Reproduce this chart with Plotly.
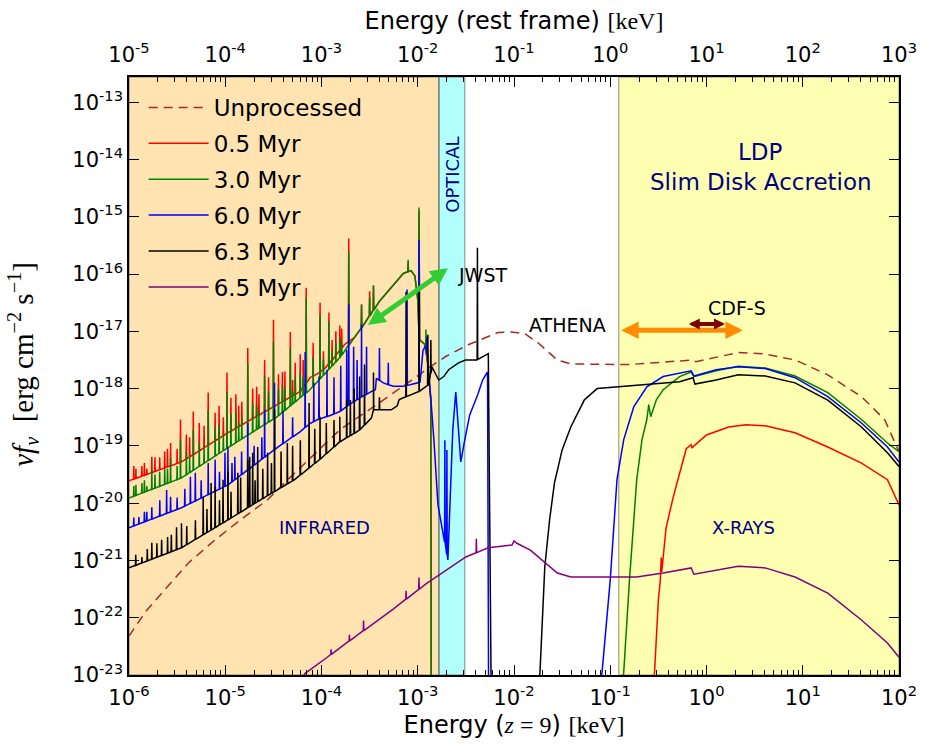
import numpy as np
import plotly.graph_objects as go

# ---------------- data: log10(E_obs / keV) and log10(nu f_nu / erg cm^-2 s^-1) ----------------
unproc_logE = [-6.00, -5.83, -5.66, -5.38, -5.105, -4.84, -4.56, -4.35, -3.81, -3.40, -2.81, -2.71, -2.47,
               -2.165, -2.03, -1.89, -1.75, -1.55, -1.41, -1.136, -0.80, -0.14, -0.11, 0.33, 0.58, 0.92,
               1.26, 1.61, 1.85, 2.0]
unproc_logF = [-22.32, -21.90, -21.57, -21.04, -20.64, -20.29, -19.94, -19.59, -18.72, -18.25, -17.55, -17.44,
               -17.23, -17.02, -17.01, -17.04, -17.20, -17.50, -17.57, -17.58, -17.58, -17.50, -17.53, -17.37,
               -17.39, -17.50, -17.76, -18.14, -18.54, -19.10]

# 0.5 Myr
red_ir_logE = [-6.0, -5.455, -4.97, -4.46, -4.22, -4.12, -4.03, -3.96, -3.86, -3.76, -3.66, -3.58, -3.40,
               -3.15, -3.07, -3.03, -3.00, -2.98, -2.925, -2.895, -2.864, -2.860]
red_ir_logF = [-19.61, -19.28, -18.77, -18.28, -18.05, -17.81, -17.73, -17.64, -17.44, -17.23, -17.11, -16.94,
               -16.48, -15.99, -15.94, -16.03, -16.45, -17.15, -17.23, -17.58, -18.20, -23.5]
red_x_logE = [-0.56, -0.54, -0.50, -0.48, -0.47, -0.465, -0.42, -0.345, -0.27, -0.21, -0.16, -0.15, 0.0, 0.23,
              0.41, 0.61, 0.92, 1.26, 1.61, 1.88, 2.0]
red_x_logF = [-23.25, -22.95, -21.69, -21.35, -20.95, -21.20, -20.43, -19.89, -19.42, -19.05, -18.98, -19.03,
              -18.81, -18.67, -18.63, -18.65, -18.77, -19.02, -19.30, -19.59, -20.03]
red_line_logE = [-5.928, -5.866, -5.815, -5.763, -5.681, -5.629, -5.568, -5.465, -5.404, -5.332, -5.270, -5.177,
                 -5.105, -5.064, -4.982, -4.941, -4.890, -4.828, -4.766, -4.715, -4.674, -4.591, -4.550, -4.499,
                 -4.447, -4.406, -4.324, -4.273, -4.221, -4.159, -4.087, -4.015, -3.923, -3.851, -3.810, -3.717,
                 -3.584, -3.500, -3.460, -3.100, -2.987,
                 -5.95, -5.84, -5.73, -5.60, -5.50, -5.37, -5.22, -5.02, -4.86, -4.65, -4.38, -4.30, -4.19,
                 -3.98, -3.89, -3.79]
red_line_logF = [-19.40, -19.35, -19.40, -19.19, -19.20, -19.10, -18.95, -18.54, -18.80, -18.40, -18.60, -18.07,
                 -18.42, -18.30, -17.72, -18.16, -18.10, -18.23, -17.29, -18.00, -17.97, -17.50, -17.80, -16.80,
                 -17.75, -17.71, -17.01, -17.55, -17.40, -16.24, -17.20, -16.50, -16.67, -17.00, -16.90, -15.38,
                 -16.53, -16.30, -16.20, -15.80, -14.90,
                 -19.35, -19.30, -19.20, -19.05, -19.05, -18.85, -18.65, -18.50, -18.30, -18.10, -17.70, -17.85,
                 -17.50, -17.35, -17.15, -16.95]

# 3.0 Myr
green_ir_logE = [-6.0, -5.455, -4.97, -4.46, -4.12, -3.81, -3.60, -3.40, -3.15, -3.07, -3.03, -3.00, -2.98,
                 -2.925, -2.895, -2.864, -2.860]
green_ir_logF = [-19.91, -19.56, -19.03, -18.49, -18.02, -17.46, -16.97, -16.48, -15.99, -15.94, -16.03, -16.45,
                 -17.15, -17.23, -17.58, -18.20, -23.5]
green_x_logE = [-0.88, -0.86, -0.80, -0.725, -0.67, -0.62, -0.60, -0.58, -0.52, -0.45, -0.28, -0.16, -0.13, 0.10,
                0.33, 0.61, 0.92, 1.26, 1.61, 1.88, 2.0]
green_x_logF = [-23.25, -22.95, -21.34, -19.59, -18.89, -18.54, -18.28, -18.49, -18.19, -18.02, -17.79, -17.71,
                -17.79, -17.69, -17.61, -17.64, -17.78, -18.07, -18.54, -18.95, -19.10]
green_line_logE = [-5.928, -5.866, -5.815, -5.763, -5.681, -5.629, -5.568, -5.465, -5.404, -5.332, -5.270, -5.177,
                   -5.105, -5.064, -4.982, -4.941, -4.890, -4.828, -4.766, -4.715, -4.674, -4.591, -4.550, -4.499,
                   -4.447, -4.406, -4.324, -4.273, -4.221, -4.159, -4.087, -4.015, -3.923, -3.851, -3.810, -3.717,
                   -3.584, -3.500, -3.460, -3.100, -2.987, -2.915,
                   -5.95, -5.84, -5.73, -5.60, -5.50, -5.37, -5.22, -5.02, -4.86, -4.65, -4.38, -4.30, -4.19,
                   -3.98, -3.89, -3.79]
green_line_logF = [-19.68, -19.65, -19.70, -19.42, -19.45, -19.40, -19.21, -18.89, -19.10, -18.72, -18.95, -18.37,
                   -18.68, -18.62, -18.05, -18.45, -18.40, -18.51, -17.57, -18.25, -18.28, -17.78, -18.05, -17.18,
                   -18.00, -17.93, -17.29, -17.80, -17.70, -16.41, -17.45, -16.71, -16.83, -17.20, -17.10, -15.62,
                   -16.53, -16.40, -16.20, -15.75, -14.84, -16.97,
                   -19.70, -19.60, -19.50, -19.40, -19.35, -19.20, -19.00, -18.80, -18.60, -18.40, -18.00, -18.05,
                   -17.80, -17.50, -17.35, -17.20]

# 6.0 Myr
blue_ir_logE = [-6.0, -5.455, -4.97, -4.46, -4.22, -4.12, -4.04, -3.91, -3.81, -3.71, -3.60, -3.48, -3.44,
                -3.430, -3.358, -3.255, -3.152, -3.049, -2.976, -2.945, -2.914, -2.894, -2.863, -2.832, -2.790,
                -2.739, -2.687, -2.667, -2.636, -2.605, -2.584, -2.553, -2.512, -2.460, -2.378, -2.326, -2.275,
                -2.264]
blue_ir_logF = [-20.43, -20.08, -19.68, -19.03, -18.75, -18.61, -18.54, -18.47, -18.40, -18.28, -18.16, -18.05,
                -18.02, -17.82, -17.90, -17.96, -17.96, -17.92, -17.89, -17.33, -17.24, -17.59, -18.20, -18.90,
                -20.03, -20.47, -20.99, -19.95, -18.72, -18.06, -18.55, -19.28, -18.90, -18.46, -18.11, -17.85,
                -17.71, -23.3]
blue_x_logE = [-1.11, -1.085, -1.0, -0.93, -0.86, -0.756, -0.62, -0.45, -0.16, -0.13, 0.10, 0.33, 0.61, 0.92,
               1.26, 1.61, 1.88, 2.0]
blue_x_logF = [-23.25, -22.95, -21.34, -19.59, -18.89, -18.32, -17.97, -17.79, -17.69, -17.78, -17.67, -17.62,
               -17.65, -17.81, -18.14, -18.60, -19.02, -19.28]
blue_line_logE = [-5.897, -5.815, -5.763, -5.609, -5.568, -5.362, -5.311, -5.177, -5.105, -5.003, -4.972, -4.900,
                  -4.766, -4.591, -4.488, -4.170, -4.026, -3.943, -3.738, -3.717, -3.666, -3.584, -3.532, -3.398,
                  -3.306, -3.111, -2.987, -2.905, -2.718, -2.697,
                  -5.95, -5.84, -5.68, -5.50, -5.42, -5.25, -5.06, -4.93, -4.83, -4.70, -4.62, -4.40, -4.30,
                  -4.08, -3.87, -3.80, -3.63]
blue_line_logF = [-20.24, -20.15, -20.07, -19.77, -19.89, -19.54, -19.47, -19.30, -19.24, -19.12, -19.02, -19.19,
                  -18.60, -18.37, -17.90, -17.36, -17.79, -17.67, -17.32, -16.53, -17.27, -16.88, -17.27, -17.29,
                  -17.55, -16.27, -15.40, -17.09, -18.90, -19.07,
                  -20.25, -20.15, -19.95, -19.90, -19.75, -19.60, -19.45, -19.30, -19.10, -19.00, -18.85, -18.40,
                  -18.50, -17.90, -17.80, -17.60, -17.50]

# 6.3 Myr
black_ir_logE = [-6.0, -5.455, -4.97, -4.63, -4.28, -4.02, -3.81, -3.60, -3.481, -3.460, -3.275, -3.213, -3.193,
                 -2.987, -2.884, -2.853, -2.823, -2.782, -2.730, -2.679, -2.576, -2.504, -2.391, -2.267, -2.237]
black_ir_logF = [-21.13, -20.78, -20.29, -19.94, -19.59, -19.24, -18.93, -18.72, -18.51, -18.37, -18.37, -18.30,
                 -18.19, -18.05, -17.93, -17.62, -17.71, -17.85, -17.79, -17.67, -17.55, -17.50, -17.50, -17.39,
                 -23.3]
black_x_logE = [-1.75, -1.73, -1.68, -1.63, -1.58, -1.50, -1.41, -1.27, -1.136, -0.80, -0.28, -0.14, -0.12, 0.10,
                0.33, 0.61, 0.92, 1.26, 1.61, 1.88, 2.0]
black_x_logF = [-23.25, -22.95, -21.11, -20.29, -19.65, -19.07, -18.67, -18.20, -18.00, -17.95, -17.88, -17.81,
                -17.92, -17.85, -17.76, -17.78, -17.90, -18.20, -18.67, -19.12, -19.36]
black_line_logE = [-5.866, -5.763, -5.661, -5.599, -5.506, -5.455, -5.229, -5.147, -5.105, -5.023, -4.972, -4.869,
                   -4.766, -4.746, -4.715, -4.663, -4.560, -4.488, -4.355, -4.129, -4.015, -3.810, -3.738, -3.604,
                   -3.553, -3.460, -3.398, -3.121, -2.987, -2.895, -2.864, -2.380,
                   -5.93, -5.81, -5.71, -5.56, -5.40, -5.31, -5.19, -5.06, -4.94, -4.84, -4.69, -4.61, -4.52,
                   -4.42, -4.30, -4.22, -4.07, -3.95, -3.87, -3.70, -3.66]
black_line_logF = [-20.94, -20.69, -20.64, -20.59, -20.42, -20.35, -19.89, -19.65, -19.72, -19.59, -19.45, -19.47,
                   -19.24, -19.19, -19.12, -19.02, -19.12, -18.37, -18.95, -18.25, -18.49, -18.49, -18.19, -17.79,
                   -17.58, -17.72, -18.15, -16.31, -16.27, -17.06, -17.15, -15.54,
                   -20.90, -20.80, -20.70, -20.55, -20.40, -20.30, -20.10, -19.95, -19.80, -19.55, -19.60, -19.40,
                   -19.30, -19.10, -19.00, -18.90, -18.70, -18.60, -18.55, -18.20, -18.00]

# 6.5 Myr
purple_logE = [-4.22, -4.17, -3.94, -3.60, -3.255, -2.915, -2.71, -2.50, -2.27, -2.06, -2.02, -2.00, -1.97, -1.83,
               -1.68, -1.55, -1.41, -1.14, -0.725, -0.45, -0.16, -0.13, 0.10, 0.33, 0.61, 0.92, 1.26, 1.61, 1.88,
               2.0]
purple_logF = [-23.09, -22.97, -22.69, -22.27, -21.85, -21.41, -21.18, -20.94, -20.78, -20.73, -20.73, -20.66,
               -20.70, -20.82, -21.04, -21.22, -21.29, -21.29, -21.29, -21.22, -21.13, -21.24, -21.17, -21.10,
               -21.13, -21.29, -21.57, -22.04, -22.44, -22.69]
purple_line_logE = [-3.90, -3.71, -3.563, -3.121, -2.987, -2.391]
purple_line_logF = [-22.55, -22.30, -22.05, -21.53, -21.30, -20.62]

# Bands (observed-frame keV)
ir_band = [1e-6, 1.66e-3]
opt_band = [1.66e-3, 3.08e-3]
xray_band = [0.1225, 100.0]

# Instrument ranges (log10 keV) and arrow heights (log10 nu f_nu)
jwst_logE = [-3.534, -2.687]
jwst_logF = [-16.91, -15.90]
athena_logE = [-0.902, 0.378]
athena_logF = -16.98
cdfs_logE = [-0.200, 0.192]
cdfs_logF = -16.87

x_tick_exp = [-6, -5, -4, -3, -2, -1, 0, 1, 2]
x2_tick_exp = [-5, -4, -3, -2, -1, 0, 1, 2, 3]
y_tick_exp = [-23, -22, -21, -20, -19, -18, -17, -16, -15, -14, -13]


# ---------------- helpers ----------------
def spectrum(cE, cF, sE=(), sF=(), w=0.003):
    cE = np.asarray(cE, float)
    cF = np.asarray(cF, float)
    xs = list(cE)
    ys = list(cF)
    for e, f in zip(sE, sF):
        b = float(np.interp(e, cE, cF))
        xs += [e - w, e, e + w]
        ys += [b, f, b]
    o = np.argsort(xs, kind="stable")
    return [10 ** xs[i] for i in o], [10 ** ys[i] for i in o]


def join(*segs):
    X, Y = [], []
    for i, (x, y) in enumerate(segs):
        if i:
            X.append(None)
            Y.append(None)
        X += list(x)
        Y += list(y)
    return X, Y


FONT = "DejaVu Sans"
SERIF = "Liberation Serif"

fig = go.Figure()

series = [
    ("Unprocessed", "#a52a2a", "9px,6px", join(spectrum(unproc_logE, unproc_logF))),
    ("0.5 Myr", "#ff0000", "solid", join(spectrum(red_ir_logE, red_ir_logF, red_line_logE, red_line_logF),
                                          spectrum(red_x_logE, red_x_logF))),
    ("3.0 Myr", "#008000", "solid", join(spectrum(green_ir_logE, green_ir_logF, green_line_logE, green_line_logF),
                                          spectrum(green_x_logE, green_x_logF))),
    ("6.0 Myr", "#0000ff", "solid", join(spectrum(blue_ir_logE, blue_ir_logF, blue_line_logE, blue_line_logF),
                                          spectrum(blue_x_logE, blue_x_logF))),
    ("6.3 Myr", "#000000", "solid", join(spectrum(black_ir_logE, black_ir_logF, black_line_logE, black_line_logF),
                                          spectrum(black_x_logE, black_x_logF))),
    ("6.5 Myr", "#800080", "solid", join(spectrum(purple_logE, purple_logF, purple_line_logE, purple_line_logF))),
]
for i, (name, col, dash, (X, Y)) in enumerate(series):
    fig.add_trace(go.Scatter(x=X, y=Y, mode="lines", name=name, legendgroup=f"g{i}",
                             line=dict(color=col, width=1.5, dash=dash),
                             connectgaps=False, hoverinfo="skip"))

# carrier for the rest-frame (top) axis: no visible mark
fig.add_trace(go.Scatter(x=[10.0 ** x2_tick_exp[0], 10.0 ** x2_tick_exp[-1]], y=[None, None], xaxis="x2",
                         mode="lines", showlegend=False, hoverinfo="skip", line=dict(width=0)))

# Bands
for (a, b), col in [(ir_band, "rgba(255,165,0,0.3)"), (opt_band, "rgba(0,255,255,0.3)"),
                    (xray_band, "rgba(255,255,0,0.3)")]:
    fig.add_shape(type="rect", xref="x", yref="paper", x0=a, x1=b, y0=0, y1=1,
                  fillcolor=col, line=dict(color="rgba(0,0,0,0.3)", width=1.5), layer="below")

anns = []
arrow_specs = [
    (jwst_logE, jwst_logF, "#32cd32", 5, 0.7),
    (athena_logE, [athena_logF, athena_logF], "#ff8c00", 5, 0.7),
    (cdfs_logE, [cdfs_logF, cdfs_logF], "#800000", 4, 0.55),
]
for xe, yf, col, wd, sz in arrow_specs:
    anns.append(dict(x=xe[1], y=yf[1], ax=xe[0], ay=yf[0], xref="x", yref="y", axref="x", ayref="y",
                     text="", showarrow=True, arrowhead=2, startarrowhead=2, arrowside="end+start",
                     arrowsize=sz, startarrowsize=sz, arrowwidth=wd, arrowcolor=col,
                     standoff=0, startstandoff=0))

NAVY = "#000080"
texts = [
    ("JWST", -2.605, -16.02, "left", 0, "black", 19),
    ("ATHENA", -1.449, -16.89, "center", 0, "black", 19),
    ("CDF-S", 0.316, -16.60, "center", 0, "black", 19),
    ("LDP", 0.563, -13.87, "center", 0, NAVY, 23),
    ("Slim Disk Accretion", 0.563, -14.40, "center", 0, NAVY, 23),
    ("INFRARED", -3.967, -20.42, "center", 0, NAVY, 18),
    ("X-RAYS", 0.388, -20.42, "center", 0, NAVY, 18),
    ("OPTICAL", -2.636, -14.27, "center", -90, NAVY, 18),
]
for t, xe, yf, xa, ang, col, fs in texts:
    anns.append(dict(x=xe, y=yf, xref="x", yref="y", text=t, showarrow=False, xanchor=xa, yanchor="middle",
                     textangle=ang, font=dict(family=FONT, size=fs, color=col)))

# y-axis title
anns.append(dict(x=-0.138, y=0.52, xref="paper", yref="paper", showarrow=False, textangle=-90,
                 text="<i>νf<sub>ν</sub></i>  [erg cm<sup>−2</sup> s<sup>−1</sup>]",
                 font=dict(family=SERIF, size=29, color="black"), xanchor="center", yanchor="middle"))

minor_vals = [k * 10.0 ** n for n in range(-7, 4) for k in range(2, 10)]
axis_common = dict(type="log", showgrid=False, zeroline=False, showline=True, linecolor="black", linewidth=1.5,
                   ticks="inside", ticklen=10, tickwidth=1.2, tickcolor="black",
                   tickfont=dict(family=FONT, size=21, color="black"),
                   minor=dict(ticks="inside", ticklen=5, tickwidth=1, tickcolor="black",
                              tickmode="array", tickvals=minor_vals, showgrid=False))

fig.update_layout(
    width=929, height=754,
    margin=dict(l=129, r=25, t=77, b=79),
    paper_bgcolor="white", plot_bgcolor="white",
    font=dict(family=FONT, color="black"),
    xaxis=dict(axis_common, range=[-6, 2], tickmode="array", ticklabelstandoff=3,
               tickvals=[10.0 ** e for e in x_tick_exp],
               ticktext=[f"10<sup>{e}</sup>" for e in x_tick_exp],
               title=dict(text=f'Energy (<span style="font-family:{SERIF}"><i>z</i> = 9</span>) '
                               f'<span style="font-family:{SERIF}">[keV]</span>',
                          font=dict(family=FONT, size=24), standoff=7)),
    xaxis2=dict(axis_common, range=[-5, 3], overlaying="x", side="top", anchor="y", tickmode="array",
                ticklabelstandoff=5,
                tickvals=[10.0 ** e for e in x2_tick_exp],
                ticktext=[f"10<sup>{e}</sup>" for e in x2_tick_exp],
                title=dict(text=f'Energy (rest frame) <span style="font-family:{SERIF}">[keV]</span>',
                           font=dict(family=FONT, size=24), standoff=3)),
    yaxis=dict(axis_common, range=[-23, -12.56], mirror="ticks", tickmode="array",
               tickvals=[10.0 ** e for e in y_tick_exp],
               ticktext=[f"10<sup>{e}</sup>" for e in y_tick_exp]),
    showlegend=True,
    legend=dict(x=0.019, y=0.985, xanchor="left", yanchor="top", bgcolor="rgba(0,0,0,0)",
                font=dict(family=FONT, size=23, color="black"), traceorder="grouped",
                tracegroupgap=3, itemwidth=60),
    annotations=anns,
)

fig.write_html("out.html")
